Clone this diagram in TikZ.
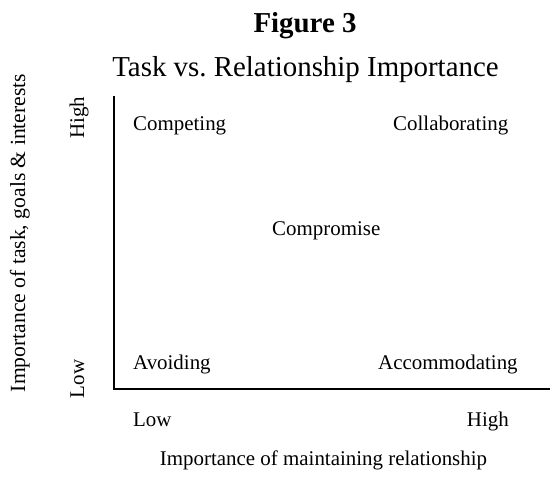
\documentclass[tikz,border=0pt]{standalone}
\usepackage{fontspec}
\setmainfont{Liberation Serif}
\frenchspacing
\begin{document}
\begin{tikzpicture}[x=1bp,y=-1bp,
  lbl/.style={inner sep=0pt, font=\fontsize{21}{25}\selectfont},
  ttl/.style={inner sep=0pt, font=\fontsize{29}{34}\selectfont},
  axisline/.style={line width=2.4bp, line join=miter}]
\useasboundingbox (0,0) rectangle (550,487);
% titles
\node[ttl, font=\fontsize{29}{34}\selectfont\bfseries, anchor=base] (fig) at (305,33) {Figure 3};
\node[ttl, anchor=base] (title) at (305.5,77) {Task vs.\ Relationship Importance};
% axes
\coordinate (ytop) at (114,96);
\coordinate (orig) at (114,389);
\coordinate (xend) at (550,389);
\draw[axisline] (ytop) -- (orig) -- (xend);
% quadrant labels
\node[lbl, anchor=base west] (comp) at (133,130.5) {Competing};
\node[lbl, anchor=base west] (coll) at (393,130.5) {Collaborating};
\node[lbl, anchor=base west] (compr) at (272,235) {Compromise};
\node[lbl, anchor=base west] (avoid) at (133,369) {Avoiding};
\node[lbl, anchor=base west] (accom) at (378,369) {Accommodating};
% x-axis
\node[lbl, anchor=base west] (xlow) at (133,426) {Low};
\node[lbl, anchor=base east] (xhigh) at (509,426) {High};
\node[lbl, anchor=base] (xlab) at (323.5,465) {Importance of maintaining relationship};
% y-axis
\node[lbl, rotate=90, anchor=base] (yhigh) at (84,118) {High};
\node[lbl, rotate=90, anchor=base] (ylow) at (84,379) {Low};
\node[lbl, rotate=90, anchor=base, font=\fontsize{21.7}{26}\selectfont] (ylab) at (25,233) {Importance of task, goals \& interests};
\end{tikzpicture}
\end{document}
